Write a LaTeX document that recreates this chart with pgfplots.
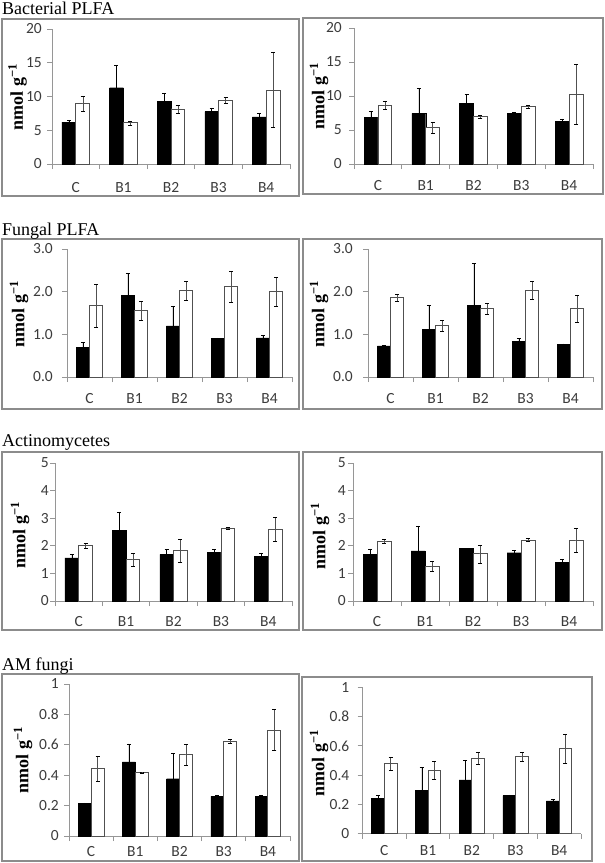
\documentclass[border=0pt]{standalone}
\usepackage{fontspec}
\setmainfont{Liberation Serif}
\newfontfamily\calfont{Carlito}
\usepackage{pgfplots}
\pgfplotsset{compat=1.18}
\definecolor{axgray}{RGB}{150,150,150}
\definecolor{txtgray}{RGB}{60,60,60}
\definecolor{framegray}{RGB}{140,140,140}
\definecolor{bargray}{RGB}{80,80,80}
\pgfplotsset{
  /pgfplots/error bars/draw error bar/.code 2 args={%
    \draw[black, line width=1.2pt] #1 -- #2;
    \draw[black, line width=1.2pt] #2 ++(-3.5pt,0) -- ++(7pt,0);
  },
}
\pgfplotsset{
  pan/.style={
    scale only axis,
    axis lines=left,
    axis line style={-, axgray, line width=0.9pt},
    xmin=-0.5, xmax=4.5, ymin=0,
    xtick={-0.5,0.5,1.5,2.5,3.5,4.5},
    x tick label as interval,
    xticklabels={C,B1,B2,B3,B4},
    tick style={axgray, line width=0.9pt},
    major tick length=5pt,
    tick align=outside,
    ybar=0pt, bar width=0.29,
    tick label style={font=\calfont\fontsize{15.5}{17}\selectfont, text=txtgray},
    yticklabel style={anchor=east, inner sep=0pt},
    xticklabel style={anchor=base, inner sep=0pt},
    clip=false,
  },
  blk/.style={fill=black, draw=black, bar shift=-0.145,
    error bars/.cd, y dir=plus, y explicit},
  wht/.style={fill=white, draw=bargray, line width=0.8pt, bar shift=0.145,
    error bars/.cd, y dir=both, y explicit},
}
\newcommand\ylab{\bfseries\fontsize{18}{18}\selectfont nmol g\textsuperscript{−1}}
\begin{document}
\begin{tikzpicture}
\useasboundingbox (0,0) rectangle (605pt,-863pt);
% frames
\begin{scope}[framegray, line width=1.5pt]
\draw (2pt,-19pt) rectangle (299pt,-196pt);
\draw (303pt,-18pt) rectangle (603pt,-194pt);
\draw (2pt,-239pt) rectangle (299pt,-409pt);
\draw (303pt,-239pt) rectangle (602pt,-409pt);
\draw (2pt,-452pt) rectangle (299pt,-630pt);
\draw (303pt,-452pt) rectangle (602pt,-630pt);
\draw (2pt,-674pt) rectangle (299pt,-861pt);
\draw (302pt,-677pt) rectangle (592pt,-861pt);
\end{scope}
% titles
\begin{scope}[every node/.style={anchor=base west, inner sep=0pt, font=\fontsize{18}{18}\selectfont}]
\node at (2pt,-14pt) {Bacterial PLFA};
\node at (2pt,-235pt) {Fungal PLFA};
\node at (2pt,-446pt) {Actinomycetes};
\node at (2pt,-670pt) {AM fungi};
\end{scope}
% y labels
\begin{scope}[every node/.style={rotate=90, inner sep=0pt}]
\node at (17.5pt,-97pt) {\ylab};
\node at (319pt,-96pt) {\ylab};
\node at (19pt,-314pt) {\ylab};
\node at (319pt,-314pt) {\ylab};
\node at (20pt,-535pt) {\ylab};
\node at (320pt,-536pt) {\ylab};
\node at (23pt,-760pt) {\ylab};
\node at (319pt,-763pt) {\ylab};
\end{scope}

% ---------- Bacterial PLFA ----------
\begin{axis}[pan, at={(52pt,-164pt)}, width=238pt, height=135pt,
  ymax=20, ytick={0,5,10,15,20}, yticklabels={0,5,10,15,20},
  yticklabel style={xshift=-5pt}, xticklabel style={yshift=-23pt}]
\addplot[blk] coordinates {(0,6.2) +- (0,0.3) (1,11.3) +- (0,3.3) (2,9.3) +- (0,1.25) (3,7.75) +- (0,0.55) (4,7.0) +- (0,0.55)};
\addplot[wht] coordinates {(0,8.95) +- (0,1.1) (1,6.1) +- (0,0.3) (2,8.15) +- (0,0.55) (3,9.45) +- (0,0.42) (4,10.95) +- (0,5.55)};
\end{axis}
\begin{axis}[pan, at={(354pt,-164pt)}, width=239pt, height=136pt,
  ymax=20, ytick={0,5,10,15,20}, yticklabels={0,5,10,15,20},
  yticklabel style={xshift=-7pt}, xticklabel style={yshift=-21pt}]
\addplot[blk] coordinates {(0,6.9) +- (0,0.85) (1,7.45) +- (0,3.75) (2,8.97) +- (0,1.3) (3,7.45) +- (0,0.12) (4,6.25) +- (0,0.4)};
\addplot[wht] coordinates {(0,8.65) +- (0,0.6) (1,5.35) +- (0,0.82) (2,7.0) +- (0,0.25) (3,8.45) +- (0,0.2) (4,10.3) +- (0,4.45)};
\end{axis}

% ---------- Fungal PLFA ----------
\begin{axis}[pan, at={(67pt,-377pt)}, width=225pt, height=128pt,
  ymax=3, ytick={0,1,2,3}, yticklabels={0.0,1.0,2.0,3.0},
  yticklabel style={xshift=-9pt}, xticklabel style={yshift=-21pt}]
\addplot[blk] coordinates {(0,0.70) +- (0,0.11) (1,1.91) +- (0,0.53) (2,1.2) +- (0,0.45) (3,0.9) +- (0,0.02) (4,0.92) +- (0,0.05)};
\addplot[wht] coordinates {(0,1.67) +- (0,0.5) (1,1.55) +- (0,0.23) (2,2.02) +- (0,0.22) (3,2.12) +- (0,0.36) (4,2.0) +- (0,0.34)};
\end{axis}
\begin{axis}[pan, at={(368pt,-377pt)}, width=225pt, height=128pt,
  ymax=3, ytick={0,1,2,3}, yticklabels={0.0,1.0,2.0,3.0},
  yticklabel style={xshift=-10pt}, xticklabel style={yshift=-21pt}]
\addplot[blk] coordinates {(0,0.73) +- (0,0.01) (1,1.12) +- (0,0.57) (2,1.68) +- (0,0.98) (3,0.84) +- (0,0.07) (4,0.76) +- (0,0.02)};
\addplot[wht] coordinates {(0,1.86) +- (0,0.08) (1,1.2) +- (0,0.13) (2,1.6) +- (0,0.12) (3,2.03) +- (0,0.21) (4,1.6) +- (0,0.31)};
\end{axis}

% ---------- Actinomycetes ----------
\begin{axis}[pan, at={(55pt,-601pt)}, width=237pt, height=138pt,
  ymax=5, ytick={0,1,2,3,4,5}, yticklabels={0,1,2,3,4,5},
  yticklabel style={xshift=-1pt}, xticklabel style={yshift=-20pt}]
\addplot[blk] coordinates {(0,1.56) +- (0,0.12) (1,2.56) +- (0,0.66) (2,1.69) +- (0,0.17) (3,1.76) +- (0,0.12) (4,1.62) +- (0,0.12)};
\addplot[wht] coordinates {(0,2.0) +- (0,0.09) (1,1.5) +- (0,0.23) (2,1.82) +- (0,0.43) (3,2.63) +- (0,0.03) (4,2.6) +- (0,0.44)};
\end{axis}
\begin{axis}[pan, at={(353pt,-601pt)}, width=240pt, height=138pt,
  ymax=5, ytick={0,1,2,3,4,5}, yticklabels={0,1,2,3,4,5},
  yticklabel style={xshift=-2pt}, xticklabel style={yshift=-20pt}]
\addplot[blk] coordinates {(0,1.69) +- (0,0.2) (1,1.82) +- (0,0.9) (2,1.92) +- (0,0.0) (3,1.75) +- (0,0.09) (4,1.41) +- (0,0.1)};
\addplot[wht] coordinates {(0,2.17) +- (0,0.07) (1,1.26) +- (0,0.17) (2,1.71) +- (0,0.33) (3,2.21) +- (0,0.05) (4,2.21) +- (0,0.44)};
\end{axis}

% ---------- AM fungi ----------
\begin{axis}[pan, at={(69pt,-836pt)}, width=221pt, height=152pt,
  ymax=1, ytick={0,0.2,0.4,0.6,0.8,1}, yticklabels={0,0.2,0.4,0.6,0.8,1},
  yticklabel style={xshift=-5pt}, xticklabel style={yshift=-15pt}]
\addplot[blk] coordinates {(0,0.213) +- (0,0.005) (1,0.487) +- (0,0.12) (2,0.377) +- (0,0.165) (3,0.261) +- (0,0.005) (4,0.261) +- (0,0.005)};
\addplot[wht] coordinates {(0,0.443) +- (0,0.085) (1,0.419) +- (0,0.003) (2,0.535) +- (0,0.067) (3,0.623) +- (0,0.014) (4,0.697) +- (0,0.135)};
\end{axis}
\begin{axis}[pan, at={(362.5pt,-833.5pt)}, width=218.5pt, height=146pt,
  ymax=1, ytick={0,0.2,0.4,0.6,0.8,1}, yticklabels={0,0.2,0.4,0.6,0.8,1},
  yticklabel style={xshift=-8pt}, xticklabel style={yshift=-17pt}]
\addplot[blk] coordinates {(0,0.239) +- (0,0.02) (1,0.294) +- (0,0.163) (2,0.368) +- (0,0.133) (3,0.26) +- (0,0.004) (4,0.223) +- (0,0.014)};
\addplot[wht] coordinates {(0,0.48) +- (0,0.044) (1,0.434) +- (0,0.061) (2,0.515) +- (0,0.043) (3,0.526) +- (0,0.033) (4,0.582) +- (0,0.1)};
\end{axis}
\end{tikzpicture}
\end{document}
